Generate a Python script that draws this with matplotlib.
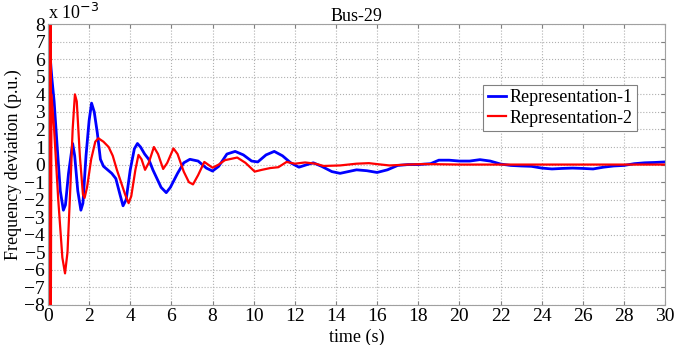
import matplotlib as mpl
mpl.use('Agg')
import matplotlib.pyplot as plt
import numpy as np

plt.rcParams['font.family'] = ['Liberation Serif', 'DejaVu Serif']

# frequency deviation, in units of 1e-3 p.u.
t_rep1 = [0.10, 0.15, 0.2, 0.3, 0.45, 0.6, 0.75, 0.85, 1.0, 1.2, 1.3, 1.45, 1.6, 1.7,
          1.85, 2.0, 2.12, 2.25, 2.4, 2.55, 2.7, 2.9, 3.1, 3.3, 3.5, 3.65, 3.8, 4.0,
          4.2, 4.35, 4.5, 4.7, 4.9, 5.1, 5.3, 5.5, 5.75, 5.95, 6.3, 6.6, 6.9, 7.3,
          7.7, 8.0, 8.3, 8.7, 9.1, 9.5, 9.9, 10.2, 10.6, 11.0, 11.4, 11.8, 12.2,
          12.6, 12.9, 13.3, 13.8, 14.2, 14.6, 15.0, 15.5, 16.0, 16.5, 17.0, 17.5,
          18.0, 18.6, 19.0, 19.5, 20.0, 20.5, 21.0, 21.5, 22.0, 22.5, 23.0, 23.5,
          24.0, 24.5, 25.0, 25.5, 26.0, 26.5, 27.0, 27.5, 28.0, 28.5, 29.0, 29.5, 30.0]
y_rep1 = [6.3, 5.5, 4.8, 3.6, 1.0, -1.5, -2.6, -2.3, -0.5, 1.2, 0.5, -1.5, -2.6, -2.2,
          0.5, 2.5, 3.5, 3.0, 1.8, 0.3, -0.1, -0.3, -0.5, -0.8, -1.7, -2.35, -2.0, -0.3,
          0.9, 1.2, 1.0, 0.6, 0.3, -0.3, -0.8, -1.3, -1.6, -1.3, -0.5, 0.1, 0.3, 0.2,
          -0.2, -0.37, -0.1, 0.6, 0.75, 0.55, 0.2, 0.15, 0.55, 0.75, 0.5, 0.1, -0.15,
          0.0, 0.1, -0.1, -0.4, -0.5, -0.4, -0.3, -0.35, -0.45, -0.3, -0.05, 0.0,
          0.0, 0.05, 0.25, 0.25, 0.2, 0.2, 0.28, 0.2, 0.03, -0.05, -0.08, -0.1,
          -0.2, -0.25, -0.22, -0.2, -0.22, -0.25, -0.15, -0.08, -0.05, 0.05, 0.1, 0.12, 0.15]

t_rep2 = [0.05, 0.08, 0.1, 0.12, 0.14, 0.17, 0.3, 0.5, 0.7, 0.83, 0.95, 1.1, 1.2, 1.31,
          1.4, 1.55, 1.7, 1.78, 1.9, 2.1, 2.3, 2.45, 2.7, 2.95, 3.15, 3.35, 3.55, 3.75,
          3.92, 4.05, 4.25, 4.4, 4.55, 4.72, 4.9, 5.15, 5.35, 5.6, 5.8, 6.1, 6.3, 6.6,
          6.85, 7.05, 7.3, 7.6, 8.0, 8.3, 8.6, 9.2, 9.6, 10.05, 10.4, 10.8, 11.2, 11.6,
          12.0, 12.5, 13.0, 13.4, 14.2, 15.0, 15.6, 16.2, 16.6, 17.5, 18.3, 20.0,
          22.0, 25.0, 30.0]
y_rep2 = [-8.5, 8.5, -8.5, 8.5, -8.5, 4.0, 2.0, -2.0, -5.3, -6.2, -5.0, -1.0, 2.0, 4.0,
          3.6, 0.5, -1.7, -1.9, -1.3, 0.3, 1.3, 1.5, 1.3, 1.0, 0.5, -0.3, -1.0, -1.7,
          -2.2, -1.8, -0.3, 0.55, 0.3, -0.3, 0.1, 1.0, 0.6, -0.25, 0.1, 0.92, 0.6, -0.4,
          -1.0, -1.13, -0.6, 0.15, -0.18, 0.0, 0.25, 0.4, 0.1, -0.4, -0.3, -0.2, -0.15, 0.15,
          0.05, 0.12, 0.05, -0.08, -0.05, 0.05, 0.08, 0.0, -0.05, 0.0, 0.03, 0.0,
          0.0, 0.0, 0.0]

fig = plt.figure(figsize=(6.95, 3.45), dpi=100)
ax = fig.add_axes([0.069, 0.116, 0.888, 0.814])

ax.plot(t_rep1, y_rep1, color='#0000ff', linewidth=2.0, label='Representation-1')
ax.plot(t_rep2, y_rep2, color='#ff0000', linewidth=1.6, label='Representation-2')

ax.set_xlim(0, 30)
ax.set_ylim(-8, 8)
ax.set_xticks(np.arange(0, 31, 2))
ax.set_yticks(np.arange(-8, 9, 1))
ax.grid(True, color='#b0b0b0', linestyle=':', linewidth=0.8)
ax.tick_params(direction='in', length=3, labelsize=14, pad=2, color='#808080',
               top=True, right=True)
for s in ax.spines.values():
    s.set_color('#a0a0a0')

ax.set_title('Bus-29', fontsize=13, pad=2)
ax.set_xlabel('time (s)', fontsize=13, labelpad=0)
ax.xaxis.set_label_coords(0.5, -0.085)
ax.set_ylabel('Frequency deviation (p.u.)', fontsize=13, labelpad=2)
ax.text(0.0, 1.005, r'x 10$^{-3}$', transform=ax.transAxes, fontsize=13,
        ha='left', va='bottom')

leg = ax.legend(loc='upper left', bbox_to_anchor=(0.705, 0.785), fontsize=13,
                handlelength=1.0, handletextpad=0.2, borderpad=0.25,
                labelspacing=0.2, fancybox=False, framealpha=1, borderaxespad=0)
leg.get_frame().set_edgecolor('#808080')
leg.get_frame().set_linewidth(0.8)

plt.savefig('out.png', dpi=100)
